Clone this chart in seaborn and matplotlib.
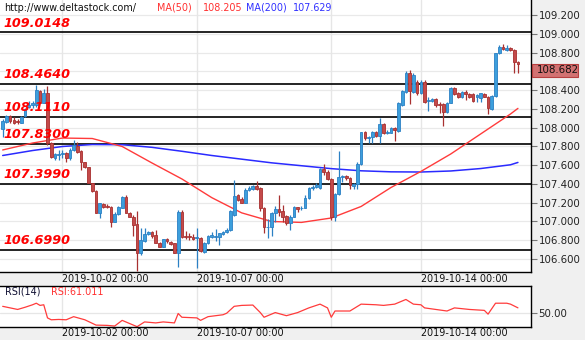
import numpy as np
import pandas as pd
import matplotlib
matplotlib.use("Agg")
import matplotlib.pyplot as plt
import seaborn as sns
from matplotlib.patches import Rectangle

# ---------------- data (2-hour candles) ----------------
opens = [107.982,108.063,108.127,108.081,108.071,108.053,108.124,108.223,108.241,108.241,
         108.394,108.266,108.365,107.840,107.680,107.712,107.719,107.726,107.680,107.761,
         107.804,107.754,107.630,107.577,107.406,107.324,107.094,107.186,107.168,107.158,
         106.998,107.079,107.147,107.264,107.094,107.051,106.973,106.667,106.795,106.866,
         106.888,106.852,106.774,106.731,106.810,106.785,106.767,106.667,107.101,106.849,
         106.849,106.835,106.824,106.827,106.678,106.767,106.838,106.838,106.838,106.866,
         106.888,106.909,107.065,107.278,107.243,107.200,107.335,107.342,107.378,107.355,
         107.140,106.937,106.937,107.087,107.133,107.111,107.062,106.980,107.051,107.154,
         107.140,107.147,107.247,107.353,107.364,107.360,107.559,107.531,107.453,107.044,
         107.293,107.470,107.484,107.460,107.378,107.399,107.612,107.950,107.889,107.896,
         107.957,107.911,108.035,107.939,107.946,108.000,107.964,108.241,108.383,108.578,
         108.383,108.490,108.365,108.490,108.287,108.284,108.301,108.252,108.252,108.170,
         108.266,108.419,108.365,108.330,108.383,108.355,108.355,108.330,108.319,108.355,
         108.330,108.195,108.337,108.792,108.863,108.827,108.845,108.827,108.703]
highs = [108.088,108.134,108.134,108.110,108.088,108.124,108.205,108.284,108.284,108.454,
         108.401,108.408,108.443,107.850,107.726,107.761,107.761,107.744,107.779,107.868,
         107.850,107.761,107.637,107.584,107.413,107.335,107.200,107.200,107.186,107.165,
         107.104,107.168,107.271,107.282,107.104,107.069,107.115,106.927,106.927,106.898,
         106.898,106.909,106.785,106.817,106.827,106.795,106.774,107.122,107.122,106.902,
         106.874,106.866,106.927,106.838,106.785,106.856,106.891,106.916,106.881,106.902,
         106.927,107.122,107.442,107.293,107.257,107.353,107.378,107.389,107.435,107.366,
         107.158,107.023,107.104,107.165,107.282,107.175,107.069,107.069,107.168,107.158,
         107.168,107.282,107.371,107.389,107.406,107.566,107.612,107.549,107.460,107.300,
         107.754,107.495,107.495,107.470,107.413,107.637,107.957,107.964,107.911,107.964,
         107.967,108.099,108.053,107.975,108.010,108.010,108.277,108.401,108.607,108.614,
         108.578,108.507,108.507,108.507,108.330,108.312,108.312,108.277,108.259,108.277,
         108.429,108.429,108.383,108.394,108.401,108.365,108.365,108.358,108.372,108.372,
         108.337,108.348,108.799,108.880,108.891,108.880,108.855,108.834,108.714]
lows = [107.897,108.046,108.046,108.039,108.039,108.046,108.117,108.205,108.205,108.223,
        108.259,108.259,107.815,107.673,107.655,107.655,107.673,107.637,107.655,107.754,
        107.733,107.549,107.566,107.406,107.317,107.087,107.033,107.140,107.140,106.937,
        106.991,107.069,107.140,107.087,107.044,106.849,106.475,106.643,106.785,106.856,
        106.820,106.767,106.724,106.724,106.767,106.749,106.660,106.518,106.820,106.810,
        106.803,106.803,106.504,106.678,106.667,106.760,106.820,106.795,106.749,106.856,
        106.881,106.902,107.058,107.222,107.193,107.193,107.328,107.335,107.335,107.110,
        106.874,106.820,106.845,106.998,107.058,106.998,106.962,106.909,107.044,107.097,
        107.122,107.140,107.240,107.335,107.353,107.346,107.495,107.442,107.016,107.008,
        107.282,107.424,107.442,107.346,107.346,107.346,107.602,107.868,107.833,107.833,
        107.904,107.833,107.928,107.932,107.939,107.857,107.957,108.230,108.365,108.252,
        108.372,108.348,108.358,108.266,108.177,108.277,108.223,108.152,108.021,108.159,
        108.259,108.348,108.319,108.319,108.294,108.312,108.270,108.277,108.277,108.323,
        108.142,108.188,108.330,108.785,108.827,108.820,108.820,108.586,108.586]
closes = [108.071,108.127,108.074,108.053,108.056,108.117,108.195,108.241,108.266,108.401,
          108.266,108.365,107.833,107.684,107.715,107.719,107.726,107.680,107.761,107.815,
          107.744,107.637,107.577,107.413,107.328,107.094,107.193,107.151,107.158,106.998,
          107.079,107.158,107.257,107.094,107.051,106.962,106.667,106.803,106.866,106.888,
          106.845,106.774,106.731,106.810,106.792,106.760,106.667,107.101,106.838,106.831,
          106.831,106.817,106.831,106.689,106.774,106.845,106.856,106.845,106.874,106.891,
          106.909,107.115,107.271,107.229,107.200,107.335,107.353,107.378,107.350,107.140,
          106.937,106.944,107.087,107.133,107.104,107.051,106.980,107.051,107.158,107.136,
          107.147,107.254,107.353,107.371,107.389,107.555,107.531,107.453,107.044,107.293,
          107.477,107.484,107.460,107.389,107.399,107.612,107.950,107.886,107.900,107.957,
          107.911,108.039,107.939,107.957,108.000,107.975,108.266,108.390,108.586,108.394,
          108.561,108.365,108.490,108.277,108.294,108.305,108.237,108.237,108.170,108.266,
          108.419,108.355,108.330,108.383,108.355,108.330,108.284,108.348,108.365,108.330,
          108.205,108.337,108.792,108.855,108.834,108.845,108.827,108.703,108.682]

ma_idx = [0, 8, 16, 24, 32, 40, 48, 56, 64, 72, 80, 88, 96, 104, 112, 120, 128, 136, 138]
ma50 = [107.762, 107.836, 107.889, 107.884, 107.799, 107.623, 107.453, 107.254, 107.092, 107.000,
        106.990, 107.037, 107.160, 107.362, 107.533, 107.719, 107.932, 108.145, 108.205]
ma200 = [107.703, 107.756, 107.799, 107.820, 107.818, 107.790, 107.748, 107.703, 107.664, 107.625,
         107.594, 107.563, 107.540, 107.529, 107.527, 107.538, 107.564, 107.604, 107.629]

levels = [109.0148, 108.4640, 108.1110, 107.8300, 107.3990, 106.6990]
level_labels = ["109.0148", "108.4640", "108.1110", "107.8300", "107.3990", "106.6990"]

rsi_idx = [0, 2, 4, 6, 8, 9, 10, 11, 12, 13, 15, 17, 19, 22, 25, 28, 30, 32, 34, 36, 38, 41, 43, 46,
           47, 48, 52, 53, 55, 59, 60, 62, 64, 67, 69, 70, 73, 76, 79, 82, 85, 87, 88, 89, 93, 96,
           100, 102, 105, 108, 110, 112, 113, 116, 119, 121, 125, 129, 130, 132, 135, 136, 138]
rsi_val = [64.1, 60.9, 57.7, 62.2, 67.3, 70.5, 66.0, 67.3, 40.4, 36.5, 37.2, 36.5, 42.9, 36.5, 25.6,
           25.0, 23.7, 35.3, 28.8, 22.4, 32.1, 30.1, 32.1, 30.1, 49.4, 41.7, 40.4, 35.3, 42.9, 46.8,
           50.0, 64.1, 66.0, 66.7, 51.3, 41.7, 51.3, 44.9, 51.3, 60.9, 68.6, 60.9, 41.7, 54.5, 54.5,
           68.6, 67.3, 66.0, 68.6, 78.2, 68.6, 67.3, 60.9, 57.7, 54.5, 60.9, 57.7, 55.8, 48.1, 70.5,
           70.5, 68.6, 61.011]

date_ticks = [16, 52, 88, 112]
date_labels = ["2019-10-02 00:00", "2019-10-07 00:00", "", "2019-10-14 00:00"]
price_ticks = [106.6, 106.8, 107.0, 107.2, 107.4, 107.6, 107.8, 108.0, 108.2, 108.4, 108.6,
               108.8, 109.0, 109.2]

# ---------------- figure ----------------
sns.set_theme(style="white")
plt.rcParams['font.family'] = ['DejaVu Sans']

W, H = 585, 340
fig = plt.figure(figsize=(W / 100, H / 100), dpi=100)
fig.patch.set_facecolor('#f0f0f0')


def px_axes(x0, y0, x1, y1):
    return fig.add_axes([x0 / W, 1 - y1 / H, (x1 - x0) / W, (y1 - y0) / H])


ax = px_axes(0, 0, 531, 272)
rax = px_axes(0, 286, 531, 327)

XLIM = (-0.72, 141.5)
YLIM = (106.4617, 109.3598)

UP_FILL, UP_EDGE = '#3d9fdc', '#2b80c4'
DN_FILL, DN_EDGE = '#c44a4a', '#a83030'

ax.set_facecolor('white')
for v in price_ticks:
    ax.axhline(v, color='#e9e9e9', lw=0.9, zorder=0)
for t in date_ticks:
    ax.axvline(t, color='#e6e6e6', lw=1.0, zorder=0)

for lv in levels:
    ax.axhline(lv, color='black', lw=1.2, zorder=1)

idx = np.arange(len(opens))
o = np.array(opens); h = np.array(highs); l = np.array(lows); c = np.array(closes)
up = c >= o
for mask, fill, edge in [(up, UP_FILL, UP_EDGE), (~up, DN_FILL, DN_EDGE)]:
    ax.vlines(idx[mask], l[mask], h[mask], color=edge, lw=0.9, zorder=3)
    bot = np.minimum(o, c)[mask]
    hgt = np.maximum(np.abs(c - o)[mask], 0.004)
    ax.bar(idx[mask], hgt, bottom=bot, width=0.72, color=fill, edgecolor=edge,
           linewidth=0.6, zorder=4)

ma_df = pd.DataFrame({'i': ma_idx, 'ma50': ma50, 'ma200': ma200})
sns.lineplot(data=ma_df, x='i', y='ma200', ax=ax, color='#2a2aff', lw=1.1, zorder=2)
sns.lineplot(data=ma_df, x='i', y='ma50', ax=ax, color='#ff3b3b', lw=1.0, zorder=2)

for lv, lab in zip(levels, level_labels):
    ax.text(3 / 531, lv + 0.03, lab, transform=ax.get_yaxis_transform(), color='#ff0000',
            fontsize=9.2, fontweight='bold', fontstyle='italic', va='bottom', ha='left',
            zorder=6)

ax.set_xlim(*XLIM)
ax.set_ylim(*YLIM)
ax.set_xlabel('')
ax.set_ylabel('')
ax.yaxis.tick_right()
ax.set_yticks(price_ticks)
last_close = closes[-1]
ax.set_yticklabels([("" if abs(v - last_close) < 0.1 else f"{v:.3f}") for v in price_ticks],
                   fontsize=7.4, color='#222222')
ax.tick_params(axis='y', which='both', right=True, length=4, width=0.8, color='#777777', pad=1.5)
ax.set_xticks(date_ticks)
ax.set_xticklabels(date_labels, fontsize=6.9, ha='left', color='#111111')
ax.tick_params(axis='x', bottom=True, length=0, pad=1.2)
for sp in ['top', 'left']:
    ax.spines[sp].set_visible(False)
for sp in ['right', 'bottom']:
    ax.spines[sp].set_color('black')
    ax.spines[sp].set_linewidth(1.0)

# header texts
fig.text(4 / W, 1 - 8 / H, "http://www.deltastock.com/", fontsize=6.9, color='#111111', va='center')
fig.text(157 / W, 1 - 8 / H, "MA(50)", fontsize=6.9, color='#ff3030', va='center')
fig.text(203 / W, 1 - 8 / H, f"{ma50[-1]:.3f}", fontsize=6.9, color='#ff3030', va='center')
fig.text(246 / W, 1 - 8 / H, "MA(200)", fontsize=6.9, color='#3030ff', va='center')
fig.text(293 / W, 1 - 8 / H, f"{ma200[-1]:.3f}", fontsize=6.9, color='#3030ff', va='center')

# last price box
fig.canvas.draw()
ydisp = ax.transData.transform((0, last_close))[1]
yfig = ydisp / H
box_h = 13 / H
fig.patches.append(Rectangle((532 / W, yfig - box_h), 46 / W, box_h, transform=fig.transFigure,
                             facecolor='#d27272', edgecolor='#b84040', lw=0.8, zorder=5))
fig.text(537 / W, yfig - box_h / 2, f"{last_close:.3f}", fontsize=7.4, color='#111111',
         va='center', ha='left', zorder=6)

# ---------------- RSI panel ----------------
rax.set_facecolor('white')
rax.axhline(50, color='#e6e6e6', lw=0.9, zorder=0)
for t in date_ticks:
    rax.axvline(t, color='#e6e6e6', lw=1.0, zorder=0)
rsi_df = pd.DataFrame({'i': rsi_idx, 'rsi': rsi_val})
sns.lineplot(data=rsi_df, x='i', y='rsi', ax=rax, color='#ff3b3b', lw=0.9)
rax.set_xlim(*XLIM)
rax.set_ylim(21.7, 105.8)
rax.set_xlabel('')
rax.set_ylabel('')
rax.yaxis.tick_right()
rax.set_yticks([50])
rax.set_yticklabels(["50.00"], fontsize=7.4, color='#222222')
rax.tick_params(axis='y', right=True, length=4, width=0.8, color='#777777', pad=1.5)
rax.set_xticks(date_ticks)
rax.set_xticklabels(date_labels, fontsize=6.9, ha='left', color='#111111')
rax.tick_params(axis='x', bottom=True, length=0, pad=1.0)
for sp in ['left']:
    rax.spines[sp].set_visible(False)
for sp in ['right', 'bottom', 'top']:
    rax.spines[sp].set_color('black')
    rax.spines[sp].set_linewidth(1.0)
rax.text(5 / 531, 0.86, "RSI(14)", transform=rax.transAxes, fontsize=6.9, color='#111133',
         va='center')
rax.text(51 / 531, 0.86, f"RSI:{rsi_val[-1]:.3f}", transform=rax.transAxes, fontsize=6.9,
         color='#ff3030', va='center')

fig.savefig("out.png", dpi=100, facecolor=fig.get_facecolor())
